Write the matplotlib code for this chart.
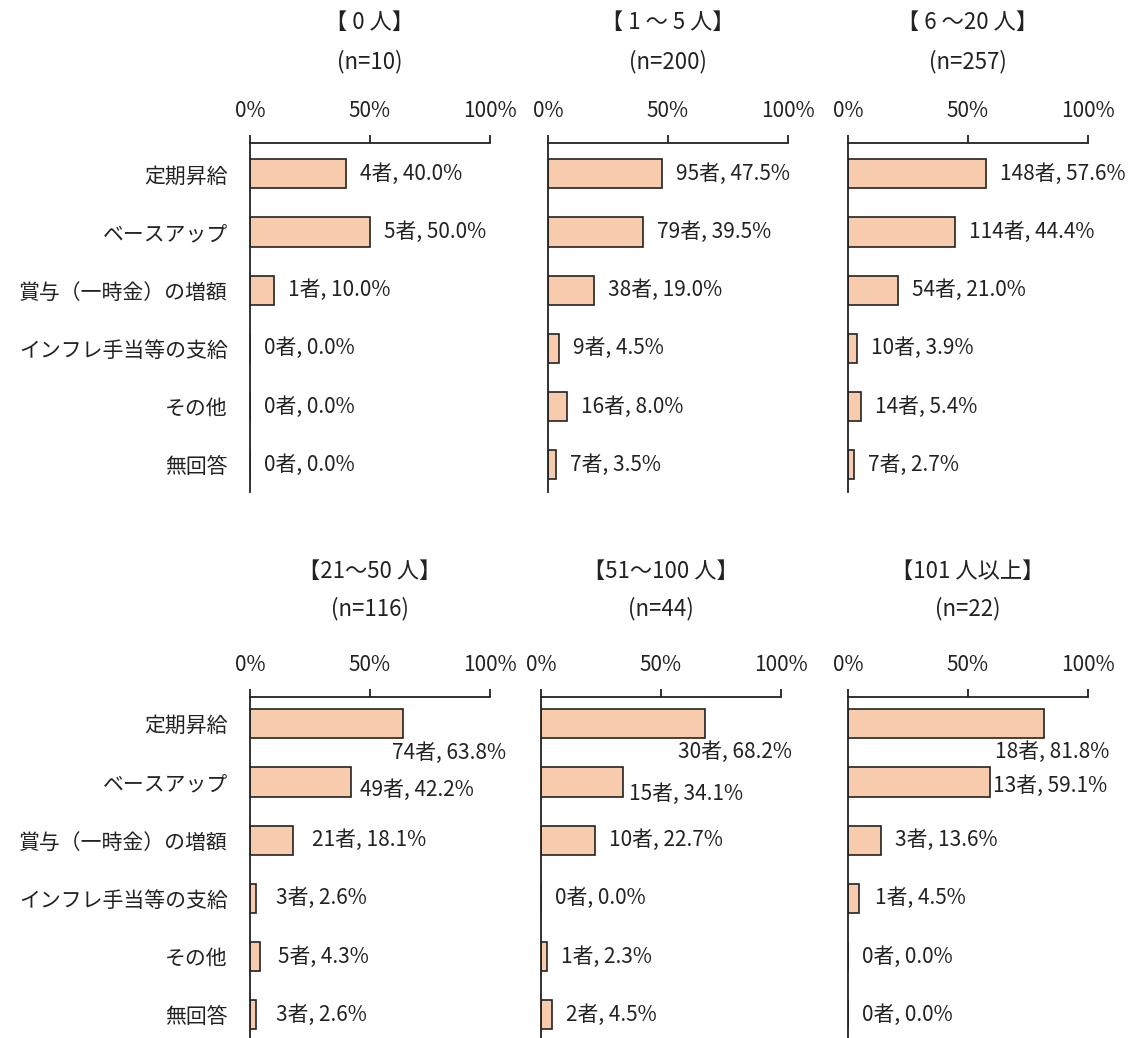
import matplotlib
matplotlib.use("Agg")
import matplotlib.pyplot as plt

plt.rcParams['font.family'] = ['Noto Sans CJK JP', 'DejaVu Sans']

# data
categories = ['定期昇給', 'ベースアップ', '賞与（一時金）の増額',
              'インフレ手当等の支給', 'その他', '無回答']
groups = ['【 0 人】', '【 1 ～ 5 人】', '【 6 ～20 人】',
          '【21～50 人】', '【51～100 人】', '【101 人以上】']
group_n = [10, 200, 257, 116, 44, 22]
counts = [
    [4, 5, 1, 0, 0, 0],
    [95, 79, 38, 9, 16, 7],
    [148, 114, 54, 10, 14, 7],
    [74, 49, 21, 3, 5, 3],
    [30, 15, 10, 0, 1, 2],
    [18, 13, 3, 1, 0, 0],
]
percents = [
    [40.0, 50.0, 10.0, 0.0, 0.0, 0.0],
    [47.5, 39.5, 19.0, 4.5, 8.0, 3.5],
    [57.6, 44.4, 21.0, 3.9, 5.4, 2.7],
    [63.8, 42.2, 18.1, 2.6, 4.3, 2.6],
    [68.2, 34.1, 22.7, 0.0, 2.3, 4.5],
    [81.8, 59.1, 13.6, 4.5, 0.0, 0.0],
]
tick_vals = [0, 50, 100]
tick_labels = ['0%', '50%', '100%']

# layout (figure pixels)
W, H = 1129, 1038
px = 72.0 / 100  # pixel -> points
panel_left = [250, 548, 848, 250, 541, 848]
panel_top = [143, 143, 143, 697, 697, 697]
panel_bottom = [492, 492, 492, 1038, 1038, 1038]
ylims = [(5.47, -0.53)] * 3 + [(5.4, -0.46)] * 3
title_off = [(121, 81)] * 3 + [(126, 88)] * 3

# special label offsets in pixels (dx from bar end, dy downward)
label_shift = {
    (3, 0): (-11, 29), (3, 1): (9, 8), (3, 2): (19, 0),
    (3, 3): (20, 0), (3, 4): (18, 0), (3, 5): (20, 0),
    (4, 0): (-27, 28), (4, 1): (6, 12),
    (5, 0): (-49, 28), (5, 1): (3, 4), (5, 3): (16, 0),
}

bar_color = '#F8CBAD'
fs = 15

fig = plt.figure(figsize=(W / 100, H / 100), dpi=100)

for i in range(6):
    l = panel_left[i] / W
    b = 1 - panel_bottom[i] / H
    h = (panel_bottom[i] - panel_top[i]) / H
    ax = fig.add_axes([l, b, 240 / W, h])
    y = list(range(len(categories)))
    ax.barh(y, percents[i], height=0.5, color=bar_color,
            edgecolor='#222222', linewidth=1.2)
    ax.set_xlim(0, 100)
    ax.set_ylim(*ylims[i])
    for s in ['right', 'bottom']:
        ax.spines[s].set_visible(False)
    for s in ['top', 'left']:
        ax.spines[s].set_linewidth(1.3)
        ax.spines[s].set_color('#222222')
    ax.xaxis.tick_top()
    ax.set_xticks(tick_vals)
    ax.set_xticklabels(tick_labels, fontsize=fs)
    ax.tick_params(axis='x', direction='out', length=6, width=1.3,
                   pad=9, colors='#222222')
    ax.set_yticks(y)
    if i % 3 == 0:
        ax.set_yticklabels(categories, fontsize=fs)
    else:
        ax.set_yticklabels([])
    ax.tick_params(axis='y', length=0, pad=16, colors='#222222')

    for j in y:
        dx, dy = label_shift.get((i, j), (14, 0))
        ax.annotate('%d者, %.1f%%' % (counts[i][j], percents[i][j]),
                    xy=(percents[i][j], j), xytext=(dx * px, -dy * px),
                    textcoords='offset points', ha='left', va='center',
                    fontsize=fs, color='#222222')

    t1, t2 = title_off[i]
    ax.annotate(groups[i], xy=(0.5, 1), xycoords='axes fraction',
                xytext=(0, t1 * px), textcoords='offset points',
                ha='center', va='center', fontsize=fs + 1, color='#222222')
    ax.annotate('(n=%d)' % group_n[i], xy=(0.5, 1), xycoords='axes fraction',
                xytext=(0, t2 * px), textcoords='offset points',
                ha='center', va='center', fontsize=fs + 1, color='#222222')

fig.savefig('out.png', dpi=100)
